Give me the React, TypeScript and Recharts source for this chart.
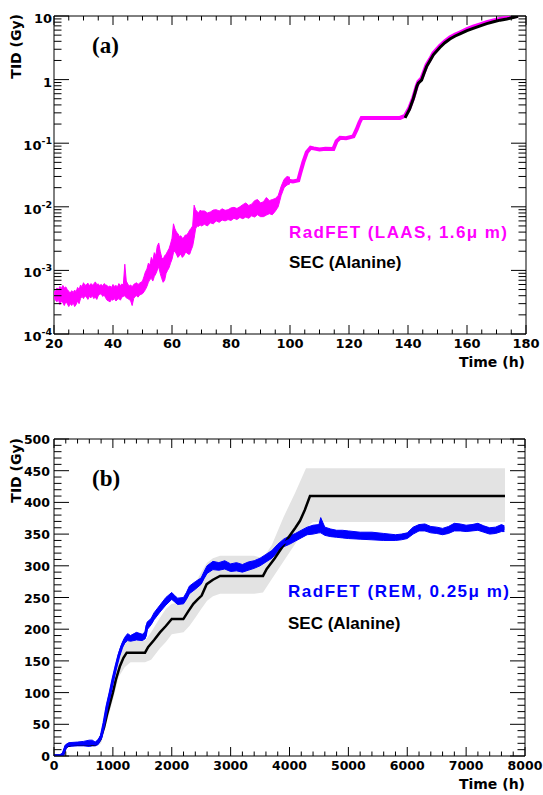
import React from "react";
import { ComposedChart, Line, Area, XAxis, YAxis, ReferenceArea } from "recharts";

// ---------- (a) RadFET LAAS 1.6um : noisy low dose part, min/max of the scatter
const laasNoiseTime = [
  20, 20.5, 21, 21.5, 22, 22.5, 23, 23.5, 24, 24.5,
  25, 25.5, 26, 26.5, 27, 27.5, 28, 28.5, 29, 29.5,
  30, 30.5, 31, 31.5, 32, 32.5, 33, 33.5, 34, 34.5,
  35, 35.5, 36, 36.5, 37, 37.5, 38, 38.5, 39, 39.5,
  40, 40.5, 41, 41.5, 42, 42.5, 43, 43.5, 44, 44.5,
  45, 45.5, 46, 46.5, 47, 47.5, 48, 48.5, 49, 49.5,
  50, 50.5, 51, 51.5, 52, 52.5, 53, 53.5, 54, 54.5,
  55, 55.5, 56, 56.5, 57, 57.5, 58, 58.5, 59, 59.5,
  60, 60.5, 61, 61.5, 62, 62.5, 63, 63.5, 64, 64.5,
  65, 65.5, 66, 66.5, 67, 67.5, 68, 68.5, 69, 69.5,
  70, 71, 72, 73, 74, 75, 76, 77, 78, 79,
  80, 81, 82, 83, 84, 85, 86, 87, 88, 89,
  90, 91, 92, 93, 94, 95, 96, 97, 98, 99,
  100,
];
const laasNoiseLow = [
  3.7e-4, 3.4e-4, 3.2e-4, 3.5e-4, 2.9e-4, 3.3e-4, 3.1e-4, 2.8e-4, 3.2e-4, 3.0e-4,
  2.7e-4, 3.0e-4, 2.8e-4, 3.1e-4, 2.7e-4, 2.9e-4, 3.3e-4, 3.0e-4, 3.6e-4, 3.9e-4,
  3.6e-4, 4.0e-4, 3.8e-4, 3.5e-4, 3.9e-4, 3.7e-4, 4.0e-4, 3.6e-4, 3.8e-4, 3.5e-4,
  4.0e-4, 4.2e-4, 4.3e-4, 3.9e-4, 4.1e-4, 3.7e-4, 3.4e-4, 3.3e-4, 3.2e-4, 3.5e-4,
  3.4e-4, 3.6e-4, 3.3e-4, 3.5e-4, 3.6e-4, 3.4e-4, 3.8e-4, 3.9e-4, 4.0e-4, 3.7e-4,
  3.6e-4, 3.5e-4, 3.3e-4, 2.8e-4, 3.6e-4, 3.9e-4, 4.0e-4, 3.8e-4, 4.1e-4, 4.2e-4,
  4.3e-4, 4.6e-4, 5.0e-4, 5.6e-4, 6.5e-4, 7.2e-4, 7.5e-4, 6.8e-4, 8.0e-4, 8.8e-4,
  1.0e-3, 1.15e-3, 9.0e-4, 7.5e-4, 6.5e-4, 7.0e-4, 9.0e-4, 1.0e-3, 1.1e-3, 1.3e-3,
  1.5e-3, 1.9e-3, 2.0e-3, 1.8e-3, 1.6e-3, 1.7e-3, 1.8e-3, 1.6e-3, 1.7e-3, 1.9e-3,
  1.9e-3, 1.8e-3, 1.8e-3, 2.1e-3, 2.4e-3, 3.2e-3, 4.5e-3, 5.0e-3, 4.9e-3, 5.2e-3,
  5.0e-3, 5.3e-3, 5.0e-3, 5.6e-3, 5.4e-3, 6.0e-3, 5.7e-3, 6.2e-3, 6.0e-3, 6.3e-3,
  6.1e-3, 6.6e-3, 6.3e-3, 6.8e-3, 6.5e-3, 6.9e-3, 6.6e-3, 7.2e-3, 6.9e-3, 7.5e-3,
  7.0e-3, 7.0e-3, 7.4e-3, 7.8e-3, 7.5e-3, 8.5e-3, 1.0e-2, 1.5e-2, 2.0e-2, 2.2e-2,
  2.3e-2,
];
const laasNoiseHigh = [
  4.5e-4, 4.8e-4, 5.3e-4, 5.0e-4, 5.6e-4, 5.2e-4, 5.8e-4, 5.3e-4, 5.5e-4, 5.0e-4,
  4.7e-4, 4.4e-4, 4.8e-4, 4.5e-4, 4.9e-4, 4.6e-4, 5.4e-4, 5.0e-4, 5.9e-4, 5.5e-4,
  6.4e-4, 5.8e-4, 6.0e-4, 6.3e-4, 5.7e-4, 6.2e-4, 5.9e-4, 6.1e-4, 6.6e-4, 6.0e-4,
  6.1e-4, 5.8e-4, 6.0e-4, 5.7e-4, 6.2e-4, 5.9e-4, 5.8e-4, 5.5e-4, 5.7e-4, 5.4e-4,
  6.0e-4, 5.6e-4, 5.8e-4, 5.5e-4, 6.2e-4, 5.8e-4, 6.1e-4, 5.9e-4, 1.25e-3, 6.8e-4,
  6.1e-4, 5.7e-4, 5.9e-4, 5.5e-4, 6.0e-4, 6.2e-4, 6.4e-4, 6.0e-4, 6.3e-4, 6.5e-4,
  6.8e-4, 8.0e-4, 9.5e-4, 1.05e-3, 1.3e-3, 1.2e-3, 1.6e-3, 1.4e-3, 1.9e-3, 1.7e-3,
  2.4e-3, 2.7e-3, 2.0e-3, 1.6e-3, 1.5e-3, 1.7e-3, 1.8e-3, 2.0e-3, 2.2e-3, 2.6e-3,
  3.2e-3, 5.4e-3, 4.5e-3, 4.0e-3, 3.8e-3, 3.4e-3, 3.5e-3, 3.2e-3, 3.3e-3, 3.6e-3,
  3.6e-3, 3.9e-3, 4.3e-3, 4.6e-3, 5.0e-3, 1.06e-2, 9.0e-3, 8.4e-3, 8.0e-3, 8.8e-3,
  8.6e-3, 8.6e-3, 8.0e-3, 8.3e-3, 8.9e-3, 9.0e-3, 8.6e-3, 9.3e-3, 8.8e-3, 9.0e-3,
  9.6e-3, 9.8e-3, 9.4e-3, 1.0e-2, 1.08e-2, 1.15e-2, 1.05e-2, 1.1e-2, 1.25e-2, 1.3e-2,
  1.15e-2, 1.2e-2, 1.4e-2, 1.25e-2, 1.3e-2, 1.35e-2, 1.5e-2, 2.1e-2, 2.7e-2, 3.0e-2,
  2.9e-2,
];

// (a) RadFET LAAS : smoother high dose part
const laasTime = [
  99, 101, 102.8, 103.4, 104.5, 105.7, 107, 108, 110, 112,
  114.7, 115.8, 117, 119, 121.5, 122.6, 123.5, 124.3, 126, 130,
  134, 137.3, 139, 140.5, 141.8, 143, 143.5, 144.6, 145.5, 146.3,
  147.5, 148.6, 150.8, 152.5, 154.2, 156, 157.6, 160, 162.1, 164.5,
  166.7, 169, 171.2, 173.5, 175.7, 177.3,
];
const laasDose = [
  0.026, 0.025, 0.026, 0.033, 0.05, 0.072, 0.085, 0.083, 0.08, 0.082,
  0.081, 0.108, 0.122, 0.12, 0.128, 0.165, 0.21, 0.25, 0.25, 0.25,
  0.25, 0.25, 0.27, 0.36, 0.52, 0.8, 0.92, 1.05, 1.35, 1.7,
  2.1, 2.6, 3.4, 4.0, 4.6, 5.1, 5.5, 6.2, 6.8, 7.4,
  8.0, 8.5, 9.0, 9.4, 9.9, 10,
];

// (a) SEC alanine
const secTimeA = [
  139, 140.5, 141.8, 143, 143.5, 144.6, 145.5, 146.3, 147.5, 148.6,
  150.8, 152.5, 154.2, 156, 157.6, 160, 162.1, 164.5, 166.7, 169,
  171.2, 173.5, 175.7, 177.3,
];
const secDoseA = [
  0.25, 0.34, 0.5, 0.78, 0.88, 0.98, 1.28, 1.6, 2.0, 2.45,
  3.2, 3.8, 4.35, 4.85, 5.25, 5.9, 6.4, 7.0, 7.6, 8.1,
  8.6, 9.0, 9.5, 9.9,
];

// ---------- (b) RadFET REM 0.25um (centre + min/max of the noise)
const remTime = [
  0, 100, 150, 200, 250, 400, 500, 600, 650, 700,
  750, 800, 850, 900, 950, 1000, 1050, 1100, 1150, 1200,
  1250, 1300, 1400, 1500, 1550, 1580, 1650, 1700, 1800, 1900,
  2000, 2050, 2100, 2200, 2250, 2300, 2400, 2500, 2550, 2600,
  2700, 2800, 2900, 3000, 3100, 3200, 3300, 3400, 3500, 3600,
  3700, 3800, 3900, 4000, 4100, 4200, 4300, 4400, 4500, 4530,
  4600, 4700, 4800, 4900, 5000, 5200, 5400, 5600, 5800, 5900,
  6000, 6100, 6200, 6300, 6400, 6500, 6600, 6700, 6800, 6900,
  7000, 7100, 7200, 7300, 7400, 7500, 7600, 7650,
];
const remDose = [
  0, 0, 2, 15, 18, 19, 19, 19, 20, 19,
  22, 30, 52, 78, 98, 120, 140, 158, 172, 182,
  187, 186, 188, 187, 190, 205, 212, 220, 232, 243,
  252, 248, 244, 245, 252, 262, 268, 276, 285, 293,
  300, 299, 301, 297, 298, 296, 299, 302, 306, 312,
  318, 328, 336, 340, 345, 350, 355, 356, 358, 362,
  354, 352, 350, 349, 349, 347, 346, 345, 344, 345,
  347, 355, 360, 360, 357, 356, 354, 356, 360, 360,
  359, 360, 361, 358, 355, 356, 359, 359,
];
const remLow = [
  0, 0, 0, 12, 15, 16, 16, 15, 16, 16,
  18, 26, 46, 72, 92, 116, 136, 155, 170, 178,
  182, 181, 183, 182, 185, 199, 207, 215, 227, 238,
  247, 243, 239, 240, 247, 256, 263, 271, 280, 288,
  294, 293, 295, 291, 292, 290, 293, 296, 300, 306,
  312, 322, 330, 334, 339, 344, 349, 350, 352, 352,
  348, 346, 345, 344, 343, 342, 341, 340, 340, 341,
  343, 350, 355, 355, 352, 351, 349, 351, 355, 355,
  354, 355, 356, 353, 350, 351, 354, 354,
];
const remHigh = [
  2, 2, 5, 18, 21, 22, 23, 25, 25, 22,
  26, 34, 56, 83, 103, 124, 144, 163, 177, 187,
  193, 190, 195, 192, 196, 211, 217, 226, 238, 250,
  258, 253, 249, 250, 258, 268, 275, 281, 291, 300,
  307, 305, 308, 303, 305, 302, 306, 308, 312, 318,
  324, 334, 342, 347, 351, 356, 361, 364, 365, 376,
  361, 358, 356, 356, 355, 353, 353, 351, 349, 350,
  352, 361, 365, 366, 362, 361, 359, 362, 367, 366,
  364, 365, 367, 363, 360, 361, 365, 363,
];

// (b) SEC alanine
const secTimeB = [
  0, 150, 200, 300, 700, 780, 850, 900, 1000, 1050,
  1121, 1180, 1235, 1546, 1600, 1700, 1800, 1900, 2000, 2197,
  2280, 2367, 2440, 2508, 2593, 2700, 2820, 3550, 3613, 3750,
  3895, 4000, 4100, 4178, 4260, 4348, 7660,
];
const secDoseB = [
  0, 0, 15, 18, 18, 25, 45, 65, 100, 120,
  142, 155, 163, 163, 172, 183, 195, 205, 216, 216,
  228, 240, 247, 253, 271, 278, 284, 284, 295, 312,
  332, 347, 360, 371, 388, 410, 410,
];

// (b) SEC uncertainty band
const secBandTime = [
  600, 700, 800, 900, 1000, 1100, 1200, 1300, 1546, 1650,
  1800, 1900, 2000, 2200, 2300, 2400, 2500, 2600, 2700, 2820,
  3400, 3550, 3700, 3900, 4100, 4280, 4400, 7660,
];
const secBandLow = [
  15, 15, 20, 55, 88, 125, 140, 148, 148, 152,
  170, 180, 192, 195, 205, 218, 232, 245, 252, 256,
  256, 258, 279, 307, 335, 360, 369, 369,
];
const secBandHigh = [
  20, 21, 32, 75, 115, 162, 180, 182, 182, 195,
  218, 232, 240, 242, 260, 272, 290, 305, 312, 316,
  316, 312, 333, 377, 416, 454, 454, 454,
];

// tick labels
const xMajorA = [20, 40, 60, 80, 100, 120, 140, 160, 180];
const xMajorB = [0, 1000, 2000, 3000, 4000, 5000, 6000, 7000, 8000];
const yMajorB = [0, 50, 100, 150, 200, 250, 300, 350, 400, 450, 500];
const decadesA = [1e-4, 1e-3, 1e-2, 1e-1, 1, 10];

const PINK = "#ff00ff";
const BLUE = "#0000ff";
const GREY = "#e3e3e3";
const TICK_FONT = "'DejaVu Sans', sans-serif";

const rows = (t: number[], v: number[]) => t.map((x, i) => ({ t: x, v: v[i] }));
const band = (t: number[], lo: number[], hi: number[]) =>
  t.map((x, i) => ({ t: x, band: [lo[i], hi[i]] }));

// minor ticks
const xTicksA: number[] = [];
for (let v = 20; v <= 180; v += 5) xTicksA.push(v);
const xTicksB: number[] = [];
for (let v = 0; v <= 8000; v += 200) xTicksB.push(v);
const yTicksB: number[] = [];
for (let v = 0; v <= 500; v += 10) yTicksB.push(v);
const yTicksA: number[] = [];
decadesA.slice(0, -1).forEach((d) => {
  for (let m = 1; m < 10; m++) yTicksA.push(m * d);
});
yTicksA.push(10);

const isDecade = (v: number) => Math.abs(Math.log10(v) - Math.round(Math.log10(v))) < 1e-6;

const decadeLabel = (v: number) => {
  const e = Math.round(Math.log10(v));
  if (e === 0) return "1";
  if (e === 1) return "10";
  return (
    <>
      <tspan>10</tspan>
      <tspan dy={-6} fontSize={9.5}>{e}</tspan>
    </>
  );
};

// ROOT style ticks: inward, mirrored on the opposite side
const xTick = (top: number, majors: number[], size: number) => (props: any) => {
  const { x, y, payload } = props;
  const major = majors.includes(payload.value);
  const len = major ? 9 : 4.5;
  return (
    <g>
      <line x1={x} y1={y} x2={x} y2={y - len} stroke="#000" />
      <line x1={x} y1={top} x2={x} y2={top + len} stroke="#000" />
      {major && (
        <text x={x} y={y + 14} textAnchor="middle" fontFamily={TICK_FONT} fontWeight="bold" fontSize={size} fill="#000">
          {payload.value}
        </text>
      )}
    </g>
  );
};

const yTick =
  (right: number, isMajor: (v: number) => boolean, label: (v: number) => any, lx: number, dy: number, size: number) =>
  (props: any) => {
    const { x, y, payload } = props;
    const major = isMajor(payload.value);
    const len = major ? 15 : 7.5;
    return (
      <g>
        <line x1={x} y1={y} x2={x + len} y2={y} stroke="#000" />
        <line x1={right} y1={y} x2={right - len} y2={y} stroke="#000" />
        {major && (
          <text x={lx} y={y + dy} textAnchor="end" fontFamily={TICK_FONT} fontWeight="bold" fontSize={size} fill="#000">
            {label(payload.value)}
          </text>
        )}
      </g>
    );
  };

const TopChart = () => (
  <ComposedChart width={543} height={400} margin={{ top: 16, right: 17, bottom: 36, left: 0 }}>
    <XAxis
      dataKey="t"
      type="number"
      domain={[20, 180]}
      ticks={xTicksA}
      interval={0}
      height={30}
      tickSize={0}
      tickMargin={0}
      axisLine={false}
      tickLine={false}
      allowDataOverflow
      tick={xTick(16, xMajorA, 13)}
    />
    <YAxis
      type="number"
      scale="log"
      domain={[1e-4, 10]}
      ticks={yTicksA}
      interval={0}
      width={54}
      tickSize={0}
      tickMargin={0}
      axisLine={false}
      tickLine={false}
      allowDataOverflow
      tick={yTick(526, isDecade, decadeLabel, 52, 7, 13)}
    />
    <ReferenceArea x1={20} x2={180} y1={1e-4} y2={10} fill="none" stroke="#000" strokeWidth={1} ifOverflow="visible" />
    <Area
      data={band(laasNoiseTime, laasNoiseLow, laasNoiseHigh)}
      dataKey="band"
      type="linear"
      stroke={PINK}
      strokeWidth={1}
      fill={PINK}
      fillOpacity={1}
      isAnimationActive={false}
    />
    <Line data={rows(laasTime, laasDose)} dataKey="v" type="linear" stroke={PINK} strokeWidth={4} dot={false} isAnimationActive={false} />
    <Line data={rows(secTimeA, secDoseA)} dataKey="v" type="linear" stroke="#000" strokeWidth={3} dot={false} isAnimationActive={false} />
  </ComposedChart>
);

const BottomChart = () => (
  <ComposedChart width={543} height={395} margin={{ top: 39, right: 18, bottom: 9, left: 0 }}>
    <XAxis
      dataKey="t"
      type="number"
      domain={[0, 8000]}
      ticks={xTicksB}
      interval={0}
      height={30}
      tickSize={0}
      tickMargin={0}
      axisLine={false}
      tickLine={false}
      allowDataOverflow
      tick={xTick(39, xMajorB, 12.5)}
    />
    <YAxis
      type="number"
      domain={[0, 500]}
      ticks={yTicksB}
      interval={0}
      width={54}
      tickSize={0}
      tickMargin={0}
      axisLine={false}
      tickLine={false}
      allowDataOverflow
      tick={yTick(525, (v) => yMajorB.includes(v), (v) => String(v), 50, 5, 12.5)}
    />
    <ReferenceArea x1={0} x2={8000} y1={0} y2={500} fill="none" stroke="#000" strokeWidth={1} ifOverflow="visible" />
    <Area
      data={band(secBandTime, secBandLow, secBandHigh)}
      dataKey="band"
      type="linear"
      stroke="none"
      fill={GREY}
      fillOpacity={1}
      isAnimationActive={false}
    />
    <Line data={rows(secTimeB, secDoseB)} dataKey="v" type="linear" stroke="#000" strokeWidth={2.5} dot={false} isAnimationActive={false} />
    <Area
      data={band(remTime, remLow, remHigh)}
      dataKey="band"
      type="linear"
      stroke={BLUE}
      strokeWidth={1}
      fill={BLUE}
      fillOpacity={1}
      isAnimationActive={false}
    />
    <Line data={rows(remTime, remDose)} dataKey="v" type="linear" stroke={BLUE} strokeWidth={3} dot={false} isAnimationActive={false} />
  </ComposedChart>
);

const txt = { fontFamily: TICK_FONT, fontWeight: "bold" as const };
const legendFont = { fontFamily: "'Liberation Sans', Arial, sans-serif", fontWeight: "bold" as const, fontSize: 17 };
const serif = { fontFamily: "'Liberation Serif', 'Times New Roman', serif", fontWeight: "bold" as const, fontSize: 23 };

export default function App() {
  return (
    <div style={{ position: "absolute", left: 0, top: 0, width: 543, height: 795, background: "#fff" }}>
      <div style={{ position: "absolute", left: 0, top: 0 }}>
        <TopChart />
      </div>
      <div style={{ position: "absolute", left: 0, top: 400 }}>
        <BottomChart />
      </div>
      <svg width={543} height={795} style={{ position: "absolute", left: 0, top: 0, pointerEvents: "none" }}>
        {/* panel (a) */}
        <text x={21} y={14} transform="rotate(-90 21 14)" textAnchor="end" fontSize={14} {...txt}>TID (Gy)</text>
        <text x={92} y={53} {...serif}>(a)</text>
        <text x={289} y={238} fill={PINK} textLength={218} lengthAdjust="spacing" {...legendFont}>RadFET (LAAS, 1.6μ m)</text>
        <text x={289} y={268} fill="#000" {...legendFont}>SEC (Alanine)</text>
        <text x={525} y={367} textAnchor="end" fontSize={14} {...txt}>Time (h)</text>
        {/* panel (b) */}
        <text x={21} y={438} transform="rotate(-90 21 438)" textAnchor="end" fontSize={14} {...txt}>TID (Gy)</text>
        <text x={92} y={486} {...serif}>(b)</text>
        <text x={288} y={597} fill={BLUE} textLength={221} lengthAdjust="spacing" {...legendFont}>RadFET (REM, 0.25μ m)</text>
        <text x={288} y={629} fill="#000" {...legendFont}>SEC (Alanine)</text>
        <text x={525} y={789} textAnchor="end" fontSize={14} {...txt}>Time (h)</text>
      </svg>
    </div>
  );
}
